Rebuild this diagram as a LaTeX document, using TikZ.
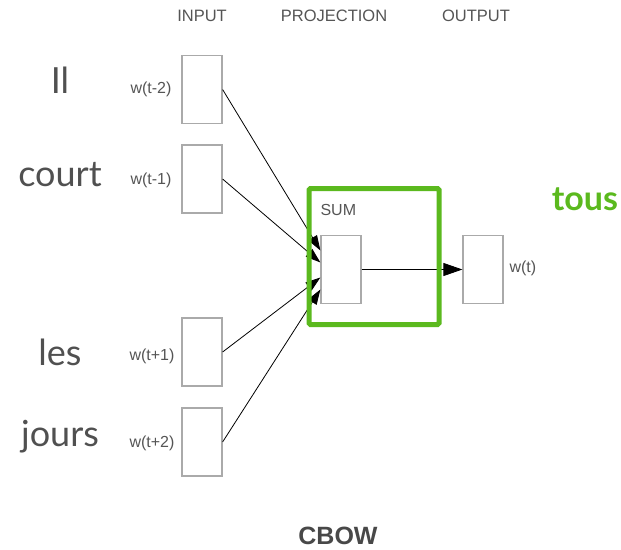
\documentclass[tikz,border=0pt]{standalone}
\usepackage{fontspec}
\setmainfont{Liberation Sans}
\newfontfamily\lato{Lato}
\usepackage{tikz}
\usetikzlibrary{arrows.meta}

\definecolor{boxgray}{RGB}{170,170,170}
\definecolor{textgray}{RGB}{85,85,85}
\definecolor{wordgray}{RGB}{80,80,80}
\definecolor{sumgreen}{RGB}{91,185,30}

\tikzset{
    vecbox/.style={draw=boxgray, line width=1.2pt, minimum width=40pt, minimum height=68pt, inner sep=0pt},
    head/.style={text=textgray, font=\fontsize{16.5}{16.5}\selectfont},
    wlabel/.style={text=textgray, font=\fontsize{16}{16}\selectfont, anchor=east},
    word/.style={text=wordgray, font=\lato\fontsize{36}{36}\selectfont},
    feed/.style={line width=0.8pt, -{Triangle[length=15pt, width=10pt]}},
}

\begin{document}
\begin{tikzpicture}[x=1pt, y=-1pt]

    \useasboundingbox (0,0) rectangle (621,549);

    % column titles
    \node[head] (tin) at (202, 16) {INPUT};
    \node[head] (tproj) at (334, 16) {PROJECTION};
    \node[head] (tout) at (476, 16) {OUTPUT};

    % input vectors
    \node[vecbox] (in1) at (202, 89.5) {};
    \node[vecbox] (in2) at (202, 179) {};
    \node[vecbox] (in3) at (202, 352) {};
    \node[vecbox] (in4) at (202, 442) {};

    \node[wlabel] (l1) at (175, 89) {w(t-2)};
    \node[wlabel] (l2) at (175, 180) {w(t-1)};
    \node[wlabel] (l3) at (178, 356) {w(t+1)};
    \node[wlabel] (l4) at (178, 443) {w(t+2)};

    \node[word] (w1) at (60, 80) {Il};
    \node[word] (w2) at (60, 175) {court};
    \node[word] (w3) at (60, 352) {les};
    \node[word] (w4) at (60, 437) {jours};

    % projection and output
    \node[vecbox] (sum) at (341, 269.5) {};
    \node[text=textgray, font=\fontsize{16}{16}\selectfont, anchor=west] (tsum) at (317, 210) {SUM};

    \node[vecbox] (out) at (483, 269.5) {};
    \node[text=textgray, font=\fontsize{16}{16}\selectfont, anchor=west] (lout) at (506, 268) {w(t)};

    \draw[feed] (in1.east) -- ([yshift=19pt]sum.west);
    \draw[feed] (in2.east) -- ([yshift=7pt]sum.west);
    \draw[feed] (in3.east) -- ([yshift=-8pt]sum.west);
    \draw[feed] (in4.east) -- ([yshift=-20pt]sum.west);

    \draw[line width=0.8pt, -{Triangle[length=19pt, width=13pt]}] (sum.east) -- (out.west);

    % highlight
    \draw[sumgreen, line width=5pt, rounded corners=1.5pt] (309, 188.5) rectangle (439, 324.5);
    \node[text=sumgreen, font=\lato\bfseries\fontsize{34}{34}\selectfont] (tous) at (585, 199) {tous};

    \node[text=textgray!85!black, font=\bfseries\fontsize{25}{25}\selectfont, inner sep=0pt] (cbow) at (338, 536) {CBOW};

\end{tikzpicture}
\end{document}
